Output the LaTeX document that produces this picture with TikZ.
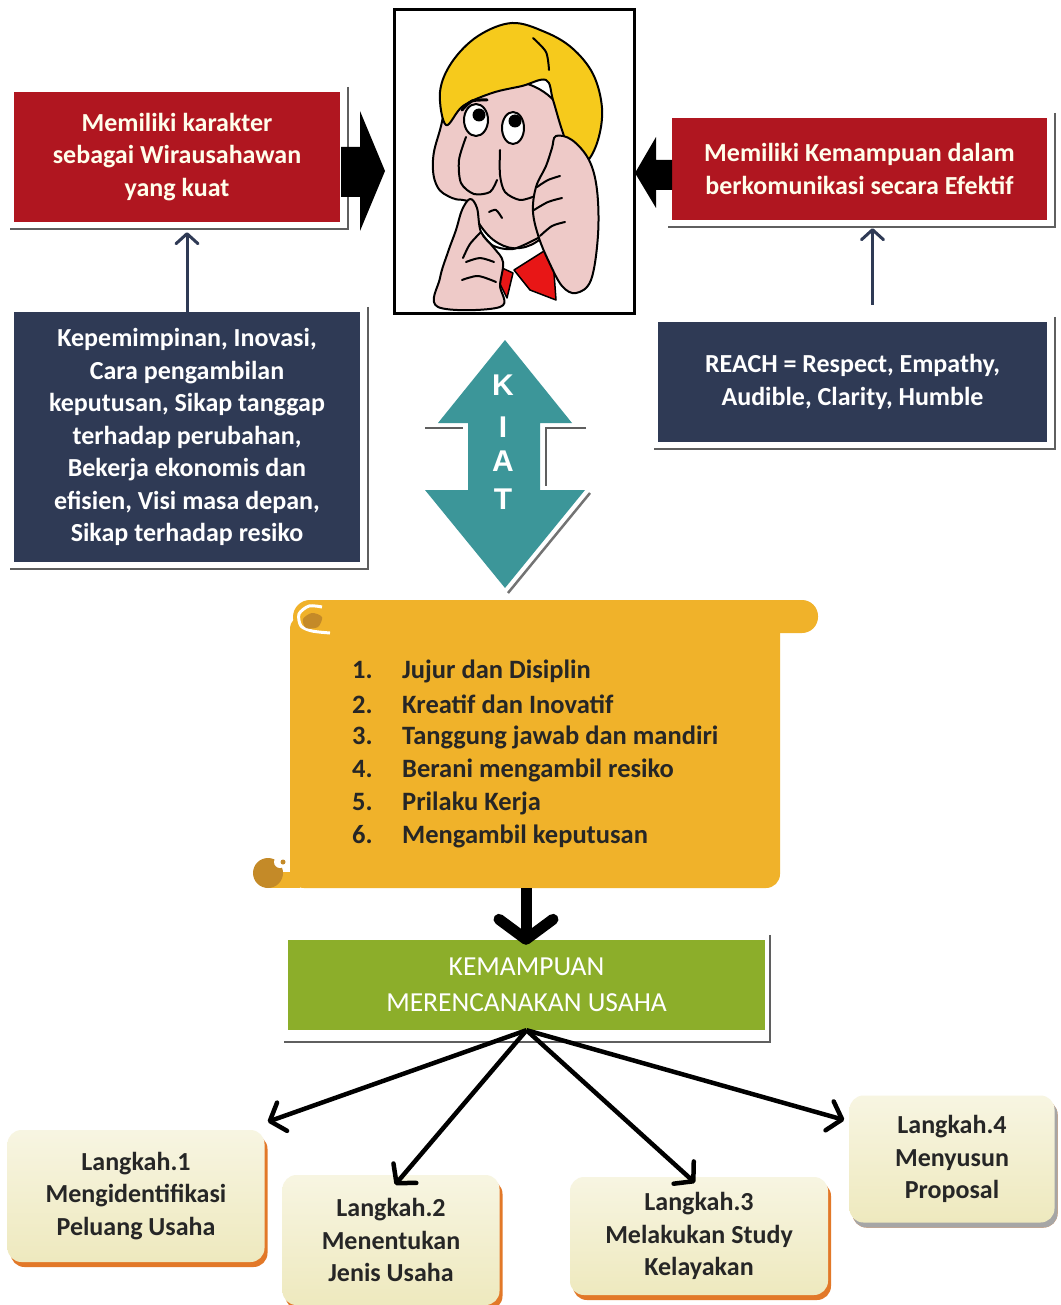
\documentclass[tikz,border=0pt]{standalone}
\usepackage{fontspec}
\setmainfont{Carlito}
\newfontfamily\kiatfont{Liberation Sans}
\usetikzlibrary{arrows.meta,calc,shadows}
\definecolor{boxred}{RGB}{176,22,32}
\definecolor{boxnavy}{RGB}{47,58,85}
\definecolor{kiatteal}{RGB}{60,150,153}
\definecolor{scrollgold}{RGB}{240,178,42}
\definecolor{curlgold}{RGB}{196,138,40}
\definecolor{planegreen}{RGB}{140,174,42}
\definecolor{stepcream}{RGB}{238,233,190}
\definecolor{steporange}{RGB}{226,120,40}
\definecolor{skin}{RGB}{238,202,200}
\definecolor{hair}{RGB}{246,202,28}
\definecolor{tiered}{RGB}{232,22,22}
\definecolor{framegray}{RGB}{95,95,95}

\tikzset{
  txt/.style={font=\bfseries\fontsize{26}{32.5}\selectfont, align=center, inner sep=0pt},
  redbox/.style={txt, fill=boxred, text=white!92!yellow},
  navybox/.style={txt, fill=boxnavy, text=white},
  stepbox/.style={txt, text=black!85, rounded corners=14pt,
    top color=stepcream!45!white, bottom color=stepcream,
    drop shadow={shadow xshift=3pt, shadow yshift=-5pt, fill=steporange, opacity=1}},
  item/.style={font=\bfseries\fontsize{26.5}{33}\selectfont, text=black!85, anchor=west, inner sep=0pt},
  kiat/.style={font=\kiatfont\bfseries\fontsize{30}{30}\selectfont, text=white, inner sep=0pt},
  frame/.style={framegray, line width=1.6pt},
  uparrow/.style={boxnavy, line width=3pt, -{Straight Barb[length=10pt,width=22pt,round]}},
  steparrow/.style={black, line width=4.5pt, -{Straight Barb[length=13pt,width=30pt,round]}},
  bigarrow/.style={black, line width=11pt, -{Straight Barb[length=20pt,width=54pt,round]}},
  outline/.style={draw=black, line width=2pt, line join=round, line cap=round}
}

\begin{document}
\begin{tikzpicture}[x=1pt,y=-1pt]
\fill[white] (0,0) rectangle (1060,1305);
\useasboundingbox (0,0) rectangle (1060,1305);

% top row boxes
\node[redbox, minimum width=326pt, minimum height=130pt] (kar) at (177,157)
  {Memiliki karakter\\sebagai Wirausahawan\\yang kuat};
\node[redbox, minimum width=375pt, minimum height=102pt] (kom) at (859.5,169)
  {Memiliki Kemampuan dalam\\berkomunikasi secara Efektif};
\node[navybox, minimum width=346pt, minimum height=250pt] (qual) at (187,437)
  {Kepemimpinan, Inovasi,\\Cara pengambilan\\keputusan, Sikap tanggap\\terhadap perubahan,\\Bekerja ekonomis dan\\efisien, Visi masa depan,\\Sikap terhadap resiko};
\node[navybox, minimum width=389pt, minimum height=120pt] (reach) at (852.5,382)
  {REACH = Respect, Empathy,\\Audible, Clarity, Humble};

% frame lines behind the boxes
\foreach \b in {kar,kom,qual,reach}
  \draw[frame] ($(\b.north east)+(8,-5)$) |- ($(\b.south west)+(-4,7)$);

\draw[uparrow, shorten >=10pt] (qual.north) -- (qual.north |- kar.south);
\draw[uparrow, shorten <=17pt, shorten >=8pt] ([xshift=20pt]reach.north) -- ([xshift=20pt]reach.north |- kom.south);

% block arrows into the face
\fill[black] (341,147) -- (360,147) -- (360,111) -- (385,171) -- (360,231) -- (360,197) -- (341,197) -- cycle;
\fill[black] (672,160) -- (656,160) -- (656,137) -- (635,173) -- (656,208) -- (656,190) -- (672,190) -- cycle;

% thinking face
\draw[line width=3pt] (394,10) rectangle (634,313);
\filldraw[fill=tiered, outline, line width=1.5pt] (489,262) -- (513,273) -- (507,298) -- cycle;
\filldraw[fill=tiered, outline, line width=1.5pt] (514,270) -- (552,246) -- (556,300) -- (530,290) -- cycle;
\filldraw[fill=skin, outline] plot[smooth cycle, tension=0.7] coordinates {(450,100) (440,130) (433,160) (437,186) (452,198) (470,203) (480,225) (498,243) (520,248) (542,238) (557,220) (566,195) (570,160) (566,125) (548,95) (510,80) (475,86)};
\filldraw[fill=hair, outline] plot[smooth cycle, tension=0.6] coordinates {(446,125) (440,92) (452,62) (478,36) (512,23) (545,32) (572,48) (593,74) (602,108) (598,140) (586,162) (572,155) (562,130) (553,100) (546,80) (522,86) (492,93) (463,106)};
\draw[outline] plot[smooth] coordinates {(533,38) (546,52) (549,70)};
\filldraw[fill=white, outline] (476,120) ellipse [x radius=12, y radius=16];
\fill[black] (479,115) circle [radius=6.5];
\filldraw[fill=white, outline] (513,128) ellipse [x radius=11, y radius=16];
\fill[black] (515,121) circle [radius=6.5];
\draw[outline, line width=3pt] plot[smooth] coordinates {(462,110) (472,101) (487,100)};
\draw[outline] plot[smooth] coordinates {(466,137) (459,160) (461,183) (474,194) (490,192) (497,180)};
\draw[outline] plot[smooth] coordinates {(500,150) (500,175) (505,192) (520,200) (535,196)};
\draw[outline] plot[smooth] coordinates {(489,212) (496,210) (502,218)};
\draw[outline] plot[smooth] coordinates {(478,228) (492,245) (513,249) (538,238)};
\filldraw[fill=skin, outline] plot[smooth cycle, tension=0.6] coordinates {(470,199) (477,208) (481,232) (494,248) (503,262) (500,285) (500,307) (438,307) (440,278) (448,252) (456,230) (462,210)};
\draw[outline] plot[smooth] coordinates {(481,232) (470,244) (463,258)};
\draw[outline] plot[smooth] coordinates {(466,262) (480,258) (494,262)};
\draw[outline] plot[smooth] coordinates {(462,280) (478,276) (496,282)};
\filldraw[fill=skin, outline] plot[smooth cycle, tension=0.6] coordinates {(556,136) (572,140) (589,160) (597,190) (598,235) (591,280) (576,293) (562,286) (549,262) (539,238) (533,212) (536,187) (546,166) (552,148)};
\draw[outline] plot[smooth] coordinates {(537,187) (548,180) (560,176)};
\draw[outline] plot[smooth] coordinates {(534,210) (548,202) (562,198)};
\draw[outline] plot[smooth] coordinates {(540,236) (552,226) (565,222)};

% KIAT double arrow
\draw[framegray, line width=2pt] (425,428) -- (463,428);
\draw[framegray, line width=2pt] (586,428) -- (546,428) -- (546,486);
\draw[black!55, line width=2.5pt] (590,493) -- (508,593);
\fill[kiatteal] (505,340) -- (572,423) -- (540,423) -- (540,490) -- (585,490) -- (505,588)
  -- (425,490) -- (468,490) -- (468,423) -- (438,423) -- cycle;
\foreach \c/\y [count=\i] in {K/385,I/427,A/461,T/499}
  \node[kiat] (kiat\i) at (503,\y) {\c};

% scroll with the list
\fill[scrollgold, rounded corners=14pt] (290,615) rectangle (780,888);
\fill[scrollgold] (268,872) rectangle (300,888);
\fill[scrollgold, rounded corners=16pt] (296,600) rectangle (818,633);
\fill[scrollgold] (310,617) circle [radius=17];
\draw[white, line width=3pt] plot[smooth] coordinates {(322,607) (309,606) (299,614) (301,626) (312,631) (330,633)};
\fill[curlgold] plot[smooth cycle] coordinates {(303,619) (312,613) (322,617) (318,627) (306,628)};
\fill[curlgold] (268,873) circle [radius=15];
\fill[white] (280,862) circle [radius=6];
\fill[curlgold] (283,862) circle [radius=2.5];
\coordinate (scrollfoot) at (526,888);
\foreach \n/\t in {1/Jujur dan Disiplin, 2/Kreatif dan Inovatif, 3/Tanggung jawab dan mandiri,
    4/Berani mengambil resiko, 5/Prilaku Kerja, 6/Mengambil keputusan}
  \node[item] (item\n) at (352,638+33*\n) {\makebox[50pt][l]{\n.}\t};

% planning box and the four steps
\node[txt, font=\fontsize{27.5}{36}\selectfont, fill=planegreen, text=white,
  minimum width=477pt, minimum height=90pt] (km) at (526.5,985) {KEMAMPUAN\\MERENCANAKAN USAHA};
\draw[frame] ($(km.north east)+(5,-5)$) |- ($(km.south west)+(-4,12)$);
\draw[bigarrow, shorten >=-5pt] (scrollfoot) -- (scrollfoot |- km.north);

\node[stepbox, minimum width=257pt, minimum height=132pt] (l1) at (136,1196)
  {Langkah.1\\Mengidentifikasi\\Peluang Usaha};
\node[stepbox, minimum width=217pt, minimum height=130pt] (l2) at (391,1240)
  {Langkah.2\\Menentukan\\Jenis Usaha};
\node[stepbox, minimum width=258pt, minimum height=118pt] (l3) at (699,1236)
  {Langkah.3\\Melakukan Study\\Kelayakan};
\node[stepbox, minimum width=205pt, minimum height=127pt,
  drop shadow={shadow xshift=3pt, shadow yshift=-5pt, fill=gray!70, opacity=1}] (l4) at (952,1159)
  {Langkah.4\\Menyusun\\Proposal};

\draw[steparrow] (km.south) -- ($(l1.north east)+(3,-8)$);
\draw[steparrow] (km.south) -- ($(l2.north)+(4,10)$);
\draw[steparrow] (km.south) -- ($(l3.north)+(-4,6)$);
\draw[steparrow] (km.south) -- ($(l4.west)+(-5,-39)$);
\end{tikzpicture}
\end{document}
